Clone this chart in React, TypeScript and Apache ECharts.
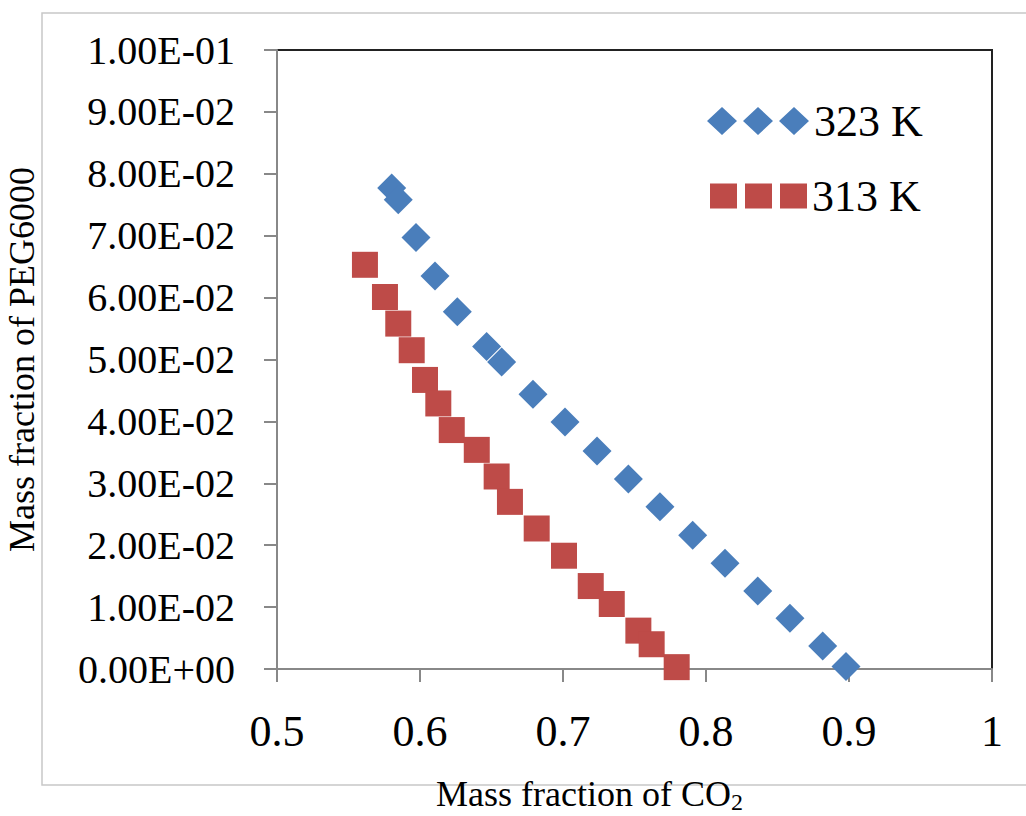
import React, { useEffect, useRef } from "react";
import * as echarts from "echarts";

const x323 = [0.5802, 0.5848, 0.5972, 0.6105, 0.6261, 0.6466, 0.6571, 0.679, 0.7014, 0.7238, 0.7457, 0.7678, 0.7907, 0.8133, 0.8362, 0.8587, 0.8816, 0.8979];
const y323 = [0.0777, 0.0758, 0.0697, 0.0635, 0.0577, 0.0521, 0.0496, 0.0444, 0.0399, 0.0352, 0.0307, 0.0262, 0.0216, 0.0171, 0.0126, 0.0082, 0.0037, 0.0004];
const x313 = [0.5615, 0.5755, 0.5848, 0.5942, 0.6035, 0.6128, 0.6222, 0.6397, 0.6536, 0.6629, 0.6816, 0.7007, 0.7194, 0.7341, 0.7527, 0.762, 0.7795];
const y313 = [0.0653, 0.0601, 0.0558, 0.0515, 0.0467, 0.0429, 0.0386, 0.0354, 0.0311, 0.027, 0.0227, 0.0183, 0.0134, 0.0105, 0.0062, 0.004, 0.0003];
const seriesNames = ["323 K", "313 K"];
const xTitle = "Mass fraction of CO";
const xTitleSub = "2";
const yTitle = "Mass fraction of PEG6000";

const FONT = "'Liberation Serif', 'Times New Roman', serif";

function sci(v: number): string {
  if (Math.abs(v) < 1e-12) return "0.00E+00";
  let e = Math.floor(Math.log10(Math.abs(v)) + 1e-9);
  let m = v / Math.pow(10, e);
  let ms = m.toFixed(2);
  if (ms === "10.00") { e += 1; ms = "1.00"; }
  return ms + "E" + (e < 0 ? "-" : "+") + String(Math.abs(e)).padStart(2, "0");
}

const diamonds3 = "path://M0 14L15 0L30 14L15 28ZM36 14L51 0L66 14L51 28ZM72 14L87 0L102 14L87 28Z";
const squares3 = "path://M0 0H27V25H0ZM35 0H62V25H35ZM70 0H97V25H70Z";

export default function App() {
  const ref = useRef<HTMLDivElement>(null);
  useEffect(() => {
    if (!ref.current) return;
    const chart = echarts.init(ref.current, undefined, { renderer: "svg" });
    chart.setOption({
      animation: false,
      backgroundColor: "#ffffff",
      textStyle: { fontFamily: FONT },
      graphic: [
        {
          type: "rect",
          shape: { x: 42, y: 13, width: 1000, height: 772 },
          style: { fill: "none", stroke: "#c8c8c8", lineWidth: 1.5 },
          silent: true,
        },
      ],
      legend: [
        {
          data: [{ name: seriesNames[0], icon: diamonds3 }],
          left: 702,
          top: 94,
          itemWidth: 102,
          itemHeight: 28,
          textStyle: { fontFamily: FONT, fontSize: 44, color: "#000" },
          selectedMode: false,
        },
        {
          data: [{ name: seriesNames[1], icon: squares3 }],
          left: 705,
          top: 169,
          itemWidth: 97,
          itemHeight: 25,
          textStyle: { fontFamily: FONT, fontSize: 44, color: "#000" },
          selectedMode: false,
        },
      ],
      grid: {
        left: 277,
        right: 34,
        top: 50,
        bottom: 147,
        show: true,
        borderColor: "#222",
        borderWidth: 2,
        backgroundColor: "transparent",
        outerBoundsMode: "none",
        containLabel: false,
      },
      xAxis: {
        type: "value",
        min: 0.5,
        max: 1,
        interval: 0.1,
        name: xTitle + "{sub|" + xTitleSub + "}",
        nameLocation: "middle",
        nameGap: 107,
        nameTextStyle: {
          fontFamily: FONT,
          fontSize: 36,
          lineHeight: 36,
          color: "#000",
          padding: [0, 90, 0, 0],
          rich: {
            sub: { fontFamily: FONT, fontSize: 24, lineHeight: 36, color: "#000", padding: [16, 0, 0, 0] },
          },
        },
        axisLine: { show: true, lineStyle: { color: "#888", width: 2 } },
        axisTick: { show: true, inside: false, length: 13, lineStyle: { color: "#888", width: 2 } },
        axisLabel: {
          fontFamily: FONT,
          fontSize: 44,
          color: "#000",
          margin: 40,
          formatter: (v: number) => String(Math.round(v * 10) / 10),
        },
        splitLine: { show: false },
      },
      yAxis: {
        type: "value",
        min: 0,
        max: 0.1,
        interval: 0.01,
        name: yTitle,
        nameLocation: "middle",
        nameGap: 237,
        nameRotate: 90,
        nameTextStyle: { fontFamily: FONT, fontSize: 36, color: "#000" },
        axisLine: { show: true, lineStyle: { color: "#888", width: 2 } },
        axisTick: { show: true, inside: false, length: 13, lineStyle: { color: "#888", width: 2 } },
        axisLabel: {
          fontFamily: FONT,
          fontSize: 40,
          color: "#000",
          margin: 42,
          formatter: (v: number) => sci(v),
        },
        splitLine: { show: false },
      },
      series: [
        {
          name: seriesNames[0],
          type: "scatter",
          symbol: "diamond",
          symbolSize: [29, 29],
          itemStyle: { color: "#4a7ebb", opacity: 1 },
          data: x323.map((x, i) => [x, y323[i]]),
        },
        {
          name: seriesNames[1],
          type: "scatter",
          symbol: "rect",
          symbolSize: [26, 26],
          itemStyle: { color: "#be4b48", opacity: 1 },
          data: x313.map((x, i) => [x, y313[i]]),
        },
      ],
    });
    return () => chart.dispose();
  }, []);
  return (
    <div
      ref={ref}
      style={{ position: "fixed", left: 0, top: 0, width: 1026, height: 816, background: "#fff" }}
    />
  );
}
